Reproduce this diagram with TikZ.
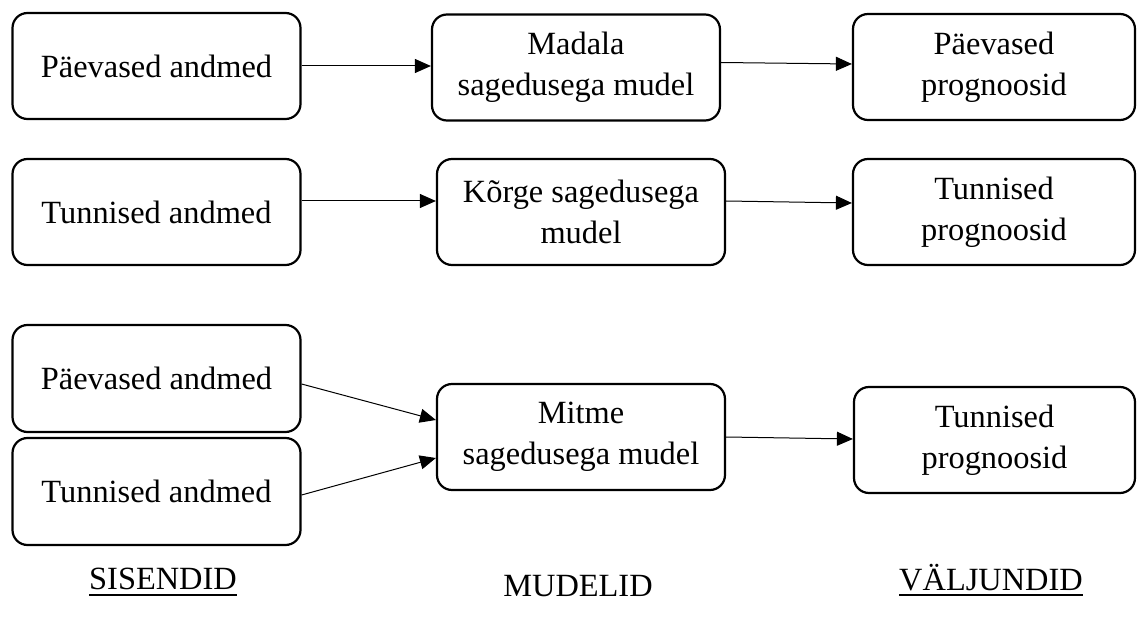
\documentclass[tikz,border=0pt]{standalone}
\usepackage{fontspec}
\setmainfont{Liberation Serif}
\usetikzlibrary{arrows.meta}

% underline drawn as a rule below the text box
\newcommand{\undl}[1]{\setbox0\hbox{#1}\rlap{\rule[-2.8pt]{\wd0}{0.9pt}}\box0}

\tikzset{
  box/.style={draw, line width=1.1pt, rounded corners=7.5pt, align=center,
    minimum width=144pt, minimum height=53pt, inner sep=0pt,
    font=\fontsize{16.2}{20.5}\selectfont},
  arr/.style={-{Triangle[length=8pt,width=7pt]}, line width=0.5pt},
  caption/.style={font=\fontsize{16.2}{20}\selectfont, inner sep=0pt}
}

\begin{document}
\begin{tikzpicture}[x=0.5pt,y=-0.5pt]
\useasboundingbox (0,0) rectangle (1137,626);

% row 1: daily data
\node[box] (in1)  at (156.5,66)  {Päevased andmed};
\node[box] (mod1) at (576,67.5)  {Madala\\sagedusega mudel};
\node[box, minimum width=141pt] (out1) at (994,67) {Päevased\\prognoosid};

% row 2: hourly data
\node[box] (in2)  at (156.5,212) {Tunnised andmed};
\node[box] (mod2) at (581,212)   {Kõrge sagedusega\\mudel};
\node[box, minimum width=141pt] (out2) at (994,212) {Tunnised\\prognoosid};

% row 3: mixed frequency
\node[box, minimum height=53.5pt] (in3a) at (156.5,378.5) {Päevased andmed};
\node[box, minimum height=53.5pt] (in3b) at (156.5,491.5) {Tunnised andmed};
\node[box] (mod3) at (581,437)   {Mitme\\sagedusega mudel};
\node[box, minimum width=140.5pt] (out3) at (994.5,440) {Tunnised\\prognoosid};

% connectors
\draw[arr] (in1.east) -- (mod1.west |- in1.east);
\draw[arr] ([yshift=2.5pt]mod1.east) -- ([yshift=1.5pt]out1.west);
\draw[arr] ([yshift=5.5pt]in2.east) -- ([yshift=5.5pt]mod2.west);
\draw[arr] ([yshift=5.5pt]mod2.east) -- ([yshift=4.5pt]out2.west);
\draw[arr] ([yshift=-2.75pt]in3a.east) -- ([yshift=8.5pt]mod3.west);
\draw[arr] ([yshift=-1.75pt]in3b.east) -- ([yshift=-10.5pt]mod3.west);
\draw[arr] (mod3.east) -- ([yshift=0.5pt]out3.west);

% column captions
\node[caption] (capin)  at (163,582) {\undl{SISENDID}};
\node[caption] (capmod) at (578,586) {MUDELID};
\node[caption] (capout) at (991,580) {\undl{VÄLJUNDID}};
\end{tikzpicture}
\end{document}
